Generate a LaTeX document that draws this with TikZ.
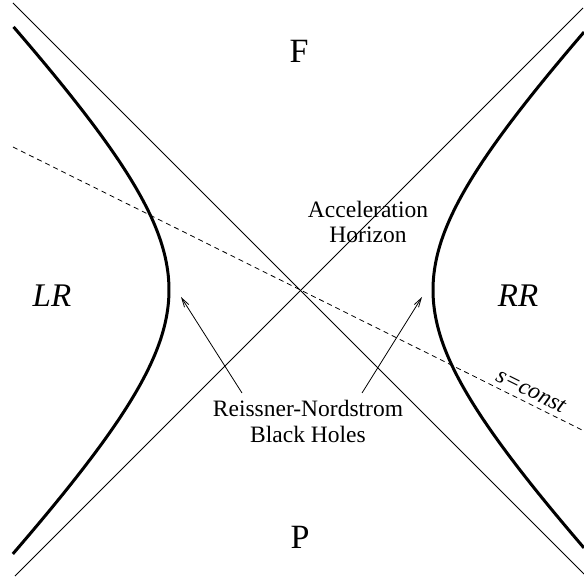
\documentclass[tikz,border=0pt]{standalone}
\usepackage{fontspec}
\setmainfont{Liberation Serif}
\usetikzlibrary{arrows.meta}
\begin{document}
\begin{tikzpicture}[x=1pt,y=-1pt,
  thinline/.style={line width=0.8pt},
  hyper/.style={line width=3pt},
  dashline/.style={line width=0.8pt, dash pattern=on 5pt off 4pt},
  pointer/.style={line width=0.8pt, -{Straight Barb[length=9pt,width=5pt]}},
  lab/.style={inner sep=0pt, align=center, font=\fontsize{23.5}{25.5}\selectfont},
  region/.style={inner sep=0pt, anchor=base, font=\fontsize{34}{38}\selectfont}]
\useasboundingbox (0,0) rectangle (584,577);
% light-cone lines
\coordinate (a1) at (13,3);
\coordinate (a2) at (584,574);
\coordinate (b1) at (15,576);
\coordinate (b2) at (583,8);
\draw[thinline] (a1) -- (a2);
\draw[thinline] (b1) -- (b2);
% s = const line
\coordinate (s1) at (13,147);
\coordinate (s2) at (584,431);
\draw[dashline] (s1) -- (s2);
% hyperbolae
\draw[hyper] plot[domain=-1.414:1.418, samples=120, smooth] ({301-132*cosh(\x)}, {290+136*sinh(\x)});
\draw[hyper] plot[domain=-1.3965:1.3965, samples=120, smooth] ({301+132*cosh(\x)}, {290+136*sinh(\x)});
% labels
\node[region] (F) at (299,63) {F};
\node[region] (P) at (300,548) {P};
\node[region, font=\fontsize{33}{38}\selectfont\itshape] (LR) at (52,307) {LR};
\node[region, font=\fontsize{33}{38}\selectfont\itshape] (RR) at (518,307) {RR};
\node[lab] (AH) at (368,222) {Acceleration\\Horizon};
\node[lab] (RN) at (308,421.5) {Reissner-Nordstrom\\Black Holes};
\node[lab, font=\fontsize{23.5}{25.5}\selectfont\itshape, rotate=-26.4] (sc) at (531,391) {s=const};
% pointers
\coordinate (t1) at (242,393);
\coordinate (h1) at (181,297);
\coordinate (t2) at (362,393);
\coordinate (h2) at (422,297);
\draw[pointer] (t1) -- (h1);
\draw[pointer] (t2) -- (h2);
\end{tikzpicture}
\end{document}
